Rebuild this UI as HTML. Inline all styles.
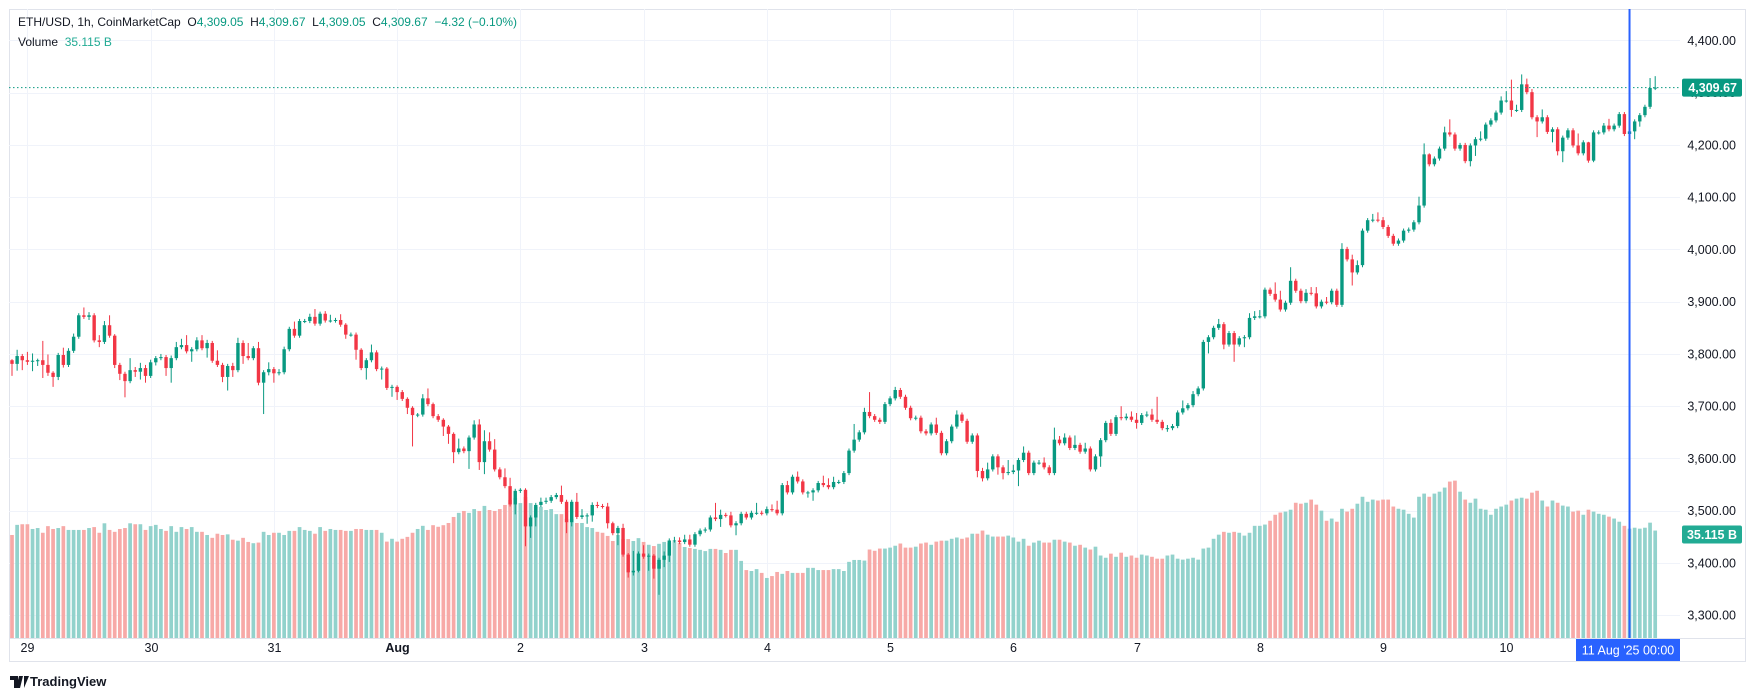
<!DOCTYPE html>
<html><head><meta charset="utf-8">
<style>
html,body{margin:0;padding:0;background:#fff;}
body{width:1756px;height:700px;overflow:hidden;position:relative;font-family:"Liberation Sans",sans-serif;}
svg{position:absolute;left:0;top:0;}
.hdr{position:absolute;left:18px;font-size:12px;color:#131722;white-space:pre;}
.g{color:#089981;}
</style></head>
<body>
<svg id="chart" width="1756" height="700" xmlns="http://www.w3.org/2000/svg"></svg>
<div class="hdr" style="top:15px">ETH/USD, 1h, CoinMarketCap  O<span class="g">4,309.05</span>  H<span class="g">4,309.67</span>  L<span class="g">4,309.05</span>  C<span class="g">4,309.67</span>  <span class="g">−4.32 (−0.10%)</span></div>
<div class="hdr" style="top:35px">Volume  <span class="g" style="color:#22ab94">35.115 B</span></div>
<div style="position:absolute;left:10px;top:673px;font-size:13px;color:#131722;font-weight:bold;">
<svg width="20" height="14" style="position:relative;left:0;top:2px;display:inline-block" viewBox="0 0 20 14"><path d="M0 1h8v12H4V5H0z M9 1h4l-3 12H6z M14 1h5l-5 12z" fill="#131722"/></svg><span style="position:relative;top:-1px;">TradingView</span></div>
<script>
const closes=[3781,3796,3788,3785,3787,3788,3779,3764,3756,3798,
3779,3806,3833,3874,3871,3874,3826,3823,3855,3835,
3779,3762,3748,3769,3766,3773,3758,3784,3792,3794,
3773,3792,3813,3817,3805,3809,3826,3811,3821,3787,
3779,3756,3777,3769,3821,3796,3792,3811,3745,3765,
3771,3763,3765,3809,3848,3835,3863,3863,3871,3858,
3877,3864,3864,3865,3856,3837,3837,3808,3773,3788,
3803,3771,3772,3735,3737,3727,3714,3697,3683,3684,
3715,3704,3681,3674,3661,3647,3612,3619,3614,3640,
3665,3593,3633,3617,3579,3564,3547,3512,3538,3540,
3470,3487,3511,3517,3519,3526,3530,3517,3478,3517,
3488,3491,3491,3511,3509,3508,3476,3457,3467,3416,
3382,3385,3418,3412,3414,3389,3406,3414,3443,3443,
3440,3445,3435,3455,3462,3464,3487,3484,3492,3491,
3472,3476,3494,3487,3496,3496,3495,3503,3502,3495,
3549,3535,3565,3556,3535,3535,3539,3553,3549,3545,
3555,3555,3572,3615,3636,3650,3689,3681,3674,3670,
3704,3715,3731,3718,3697,3677,3678,3652,3648,3665,
3649,3610,3633,3661,3684,3672,3632,3644,3576,3562,
3579,3604,3583,3572,3574,3577,3597,3611,3572,3592,
3592,3583,3572,3636,3629,3640,3620,3626,3613,3619,
3579,3604,3635,3668,3647,3679,3677,3680,3674,3668,
3683,3684,3674,3670,3658,3658,3662,3688,3696,3702,
3723,3734,3823,3832,3850,3857,3818,3840,3818,3830,
3832,3869,3872,3872,3923,3915,3904,3885,3898,3940,
3921,3901,3917,3916,3891,3900,3899,3921,3894,4001,
3981,3956,3970,4036,4056,4057,4056,4043,4026,4011,
4017,4036,4038,4052,4084,4182,4163,4174,4193,4224,
4220,4193,4200,4169,4199,4211,4212,4239,4247,4262,
4285,4285,4267,4267,4316,4301,4253,4245,4253,4225,
4230,4188,4214,4228,4199,4184,4205,4170,4224,4224,
4237,4230,4237,4259,4221,4226,4245,4257,4273,4309.05,4309.67];
const firstOpen=3788;
const wickUp=[2,12,4,16,14,3,37,20,3,4,14,5,6,4,15,6,4,10,8,19,3,4,4,23,6,10,6,5,4,6,4,5,10,12,19,4,6,10,6,4,20,4,4,6,10,5,25,4,12,4,13,4,6,5,4,14,4,4,6,15,4,5,11,4,11,3,4,4,3,4,15,4,4,3,4,3,4,3,3,3,8,19,3,4,3,3,3,19,4,4,8,10,21,17,20,4,17,16,4,3,3,4,4,8,6,4,4,18,4,4,17,12,4,5,6,4,7,3,4,8,3,38,4,16,4,3,4,8,4,7,6,9,9,4,4,4,4,28,10,4,7,4,4,4,4,19,4,5,9,17,4,8,4,10,4,3,4,4,14,13,10,4,4,4,30,4,8,38,4,4,4,4,6,4,4,4,4,4,4,4,13,4,4,4,8,4,4,4,4,6,13,4,4,4,23,11,4,12,4,4,5,10,4,23,7,8,4,18,4,11,4,4,4,4,7,4,21,6,10,13,4,6,11,44,4,6,4,4,15,4,6,4,4,4,4,10,4,4,4,4,4,9,10,12,4,4,22,17,4,26,4,4,7,11,12,4,9,4,4,11,4,9,9,4,4,11,14,6,4,4,4,4,4,4,17,21,2,4,4,11,25,4,4,4,4,4,14,4,4,4,8,18,40,10,19,11,6,4,15,4,4,4,4,4,4,23,4,1,4,4,5,13,4,4,4,4,4,4,4,19,22];
const wickDn=[23,13,19,6,18,10,25,6,19,6,5,4,4,4,4,6,4,10,4,4,6,12,31,4,10,15,13,4,6,4,15,28,4,4,4,20,4,4,18,4,4,10,26,13,4,15,4,4,5,60,6,18,4,4,4,4,4,4,4,4,4,4,4,4,4,8,4,19,4,22,4,4,20,4,17,15,4,12,60,4,4,4,4,4,18,19,21,4,4,34,4,15,23,4,4,4,4,4,19,4,38,22,17,4,4,4,4,4,21,8,4,4,16,12,4,4,10,4,23,4,10,6,3,4,27,19,50,14,12,4,4,4,4,4,4,4,4,4,15,4,4,19,4,4,4,4,4,4,4,4,4,4,4,4,4,10,16,4,4,4,4,4,4,4,4,4,4,4,4,4,4,4,4,4,4,4,4,4,4,4,4,4,4,4,4,4,4,4,12,6,4,4,14,12,4,4,30,4,4,4,4,4,4,4,4,4,4,4,4,4,4,4,20,4,4,4,4,4,4,11,4,4,4,4,4,7,4,4,4,4,4,4,4,22,4,4,9,4,33,4,17,4,4,4,4,4,4,4,4,4,4,4,4,4,4,4,4,4,4,4,4,25,4,4,4,4,4,4,4,4,4,4,4,4,4,4,4,4,4,4,4,4,4,4,10,20,4,4,4,4,4,4,13,4,4,4,4,30,4,4,20,8,21,4,4,4,4,4,3,4,4,4,4,4,4,28,15,10,4,4,4];
const volumes=[32.6,35.8,36.0,36.0,34.5,34.8,33.3,35.4,34.5,34.8,35.4,34.2,34.2,34.2,34.2,34.8,35.1,33.3,36.3,34.2,33.6,34.5,34.8,36.3,36.0,36.0,34.2,35.4,35.8,34.5,33.9,35.4,33.6,35.1,34.5,35.1,33.6,33.6,32.6,31.7,33.0,32.6,32.8,31.1,30.8,31.7,30.4,30.0,30.2,
33.6,32.6,33.3,33.3,32.6,33.9,33.9,35.1,34.2,33.9,33.0,35.1,33.9,34.5,34.2,34.2,33.9,33.9,34.5,34.5,34.2,34.2,34.2,33.3,30.5,31.4,30.5,31.4,32.0,33.3,34.5,
35.5,34.2,35.7,35.2,35.7,36.4,38.3,39.6,40.2,39.6,40.8,40.2,41.8,40.5,40.2,40.8,42.1,43.7,44.3,42.7,44.6,42.7,41.5,41.5,40.5,40.8,39.2,39.2,37.7,37.7,36.4,36.4,35.1,34.8,33.6,33.3,32.3,30.7,32.6,31.3,31.3,30.7,31.6,30.4,29.5,29.1,29.8,30.4,30.1,30.4,30.1,28.8,28.5,28.2,27.9,27.5,28.2,28.2,27.9,26.9,27.9,27.9,24.4,21.5,21.2,21.8,20.6,19.0,19.6,20.9,20.3,21.2,20.6,20.6,20.6,22.2,22.2,21.5,21.5,21.5,21.8,21.8,21.2,24.1,24.7,24.7,24.5,
28.0,27.6,28.3,28.3,28.6,29.2,29.9,28.6,28.6,28.9,29.9,30.2,29.5,30.5,30.8,30.8,31.4,31.8,31.4,31.8,33.0,33.0,34.0,32.7,32.1,32.1,32.1,32.4,31.8,30.5,31.4,29.2,30.2,30.8,30.2,30.2,31.1,31.1,30.5,30.2,29.2,29.5,28.6,28.0,28.9,26.1,25.4,26.7,25.7,27.0,25.7,26.1,25.4,26.4,26.1,25.7,25.1,25.1,26.1,26.4,25.1,24.8,25.1,25.4,24.8,28.3,28.6,31.4,32.7,33.6,33.3,33.6,33.3,32.4,33.3,35.5,35.5,35.9,37.1,
39.0,39.7,40.0,40.6,42.8,42.5,42.8,43.8,42.2,40.3,37.1,37.8,36.8,40.9,40.0,40.9,42.5,44.7,43.1,43.8,43.5,43.8,43.8,41.6,40.9,40.6,39.3,38.1,44.7,45.7,44.7,45.7,46.3,47.6,49.5,49.8,46.3,43.8,42.8,44.1,40.9,40.6,39.0,40.9,41.6,42.2,43.5,44.1,44.4,44.1,46.0,46.6,43.5,41.6,43.5,42.8,41.9,41.6,40.0,40.3,39.0,40.6,40.0,39.3,39.0,38.4,37.8,36.8,35.5,34.6,34.9,34.6,34.9,36.5,34.0];
const priceTicks=[4400,4300,4200,4100,4000,3900,3800,3700,3600,3500,3400,3300];
const dayLabels=["29","30","31","Aug","2","3","4","5","6","7","8","9","10"];
const lastPrice=4309.67;
const volLabel="35.115 B";

const NS="http://www.w3.org/2000/svg";
const svg=document.getElementById('chart');
const PL=9,PR=1680,PT=9,PB=638;
function xOf(i){return 12+i*5.135;}
function yOf(p){return 615.2-(p-3300)*0.5225;}
function vH(v){return v*3.16;}
function mk(tag,attrs,parent){const e=document.createElementNS(NS,tag);for(const k in attrs)e.setAttribute(k,attrs[k]);(parent||svg).appendChild(e);return e;}
function fmt(p){return p.toLocaleString('en-US',{minimumFractionDigits:2,maximumFractionDigits:2});}

let fr=mk('rect',{x:9.5,y:9.5,width:1736,height:652,fill:'none',stroke:'#e0e3eb'});


const grid=mk('g',{});


priceTicks.forEach(p=>{
  const y=Math.round(yOf(p))+0.5;
  const l=mk('line',{x1:PL,x2:PR,y1:y,y2:y,stroke:'#f0f3fa'},grid);
  
  
  const t=mk('text',{x:1736,y:yOf(p)+4.5,'text-anchor':'end','font-size':'12.5','fill':'#131722','font-family':'Liberation Sans, sans-serif'});
  t.textContent=fmt(p);
  
  
});
dayLabels.forEach((d,k)=>{
  const x=Math.round(xOf(3+24*k))+0.5;
  const l=mk('line',{x1:x,x2:x,y1:PT,y2:PB,stroke:'#f0f3fa'},grid);
  
  
  const t=mk('text',{x:x,y:652,'text-anchor':'middle','font-size':'12.5','fill':'#131722','font-family':'Liberation Sans, sans-serif','font-weight':d==='Aug'?'bold':'normal'});
  t.textContent=d;
  
  
});
let ax=mk('line',{x1:PL,x2:1746,y1:638.5,y2:638.5,stroke:'#e0e3eb'});



const n=Math.min(closes.length,wickUp.length,wickDn.length);
const vg=mk('g',{});


const cg=mk('g',{});


for(let i=0;i<n;i++){
  const o=i===0?firstOpen:closes[i-1], c=closes[i];
  const up=c>=o;
  const col=up?'#089981':'#f23645';
  const x=xOf(i);
  if(i<volumes.length){
    const h=vH(volumes[i]);
    const b=mk('rect',{x:(x-1.85).toFixed(2),y:(PB-h).toFixed(2),width:3.7,height:h.toFixed(2),fill:up?'#92d2cc':'#f7a9a7'},vg);
    
    
  }
  const hi=Math.max(o,c)+wickUp[i], lo=Math.min(o,c)-wickDn[i];
  const w=mk('line',{x1:x.toFixed(2),x2:x.toFixed(2),y1:yOf(hi).toFixed(2),y2:yOf(lo).toFixed(2),stroke:col,'stroke-width':1},cg);
  
  
  const yt=yOf(Math.max(o,c)), yb=yOf(Math.min(o,c));
  const r=mk('rect',{x:(x-1.7).toFixed(2),y:yt.toFixed(2),width:3.4,height:Math.max(1,yb-yt).toFixed(2),fill:col},cg);
  
  
}
const ly=yOf(lastPrice);
let pl=mk('line',{x1:PL,x2:PR,y1:ly,y2:ly,stroke:'#089981','stroke-dasharray':'1.5 2.5'});


let pb=mk('rect',{x:1682,y:ly-9,width:60,height:18,rx:2,fill:'#089981'});


let pt=mk('text',{x:1737,y:ly+4.5,'text-anchor':'end','font-size':'12.5','font-weight':'bold','fill':'#fff','font-family':'Liberation Sans, sans-serif'});
pt.textContent=fmt(lastPrice);


const vy=PB-vH(volumes[volumes.length-1]);
let vb=mk('rect',{x:1682,y:vy-5,width:60,height:18,rx:2,fill:'#22ab94'});


let vt=mk('text',{x:1737,y:vy+8.5,'text-anchor':'end','font-size':'12.5','font-weight':'bold','fill':'#fff','font-family':'Liberation Sans, sans-serif'});
vt.textContent=volLabel;


const cx=xOf(315);
let ch=mk('line',{x1:cx,x2:cx,y1:PT,y2:PB,stroke:'#2962ff','stroke-width':2});


let cb=mk('rect',{x:1576,y:639,width:104,height:22,fill:'#2962ff'});


let ct=mk('text',{x:1628,y:654.5,'text-anchor':'middle','font-size':'12.5','fill':'#fff','font-family':'Liberation Sans, sans-serif','xml:space':'preserve'});
ct.textContent="11 Aug '25   00:00";


</script>
</body></html>
